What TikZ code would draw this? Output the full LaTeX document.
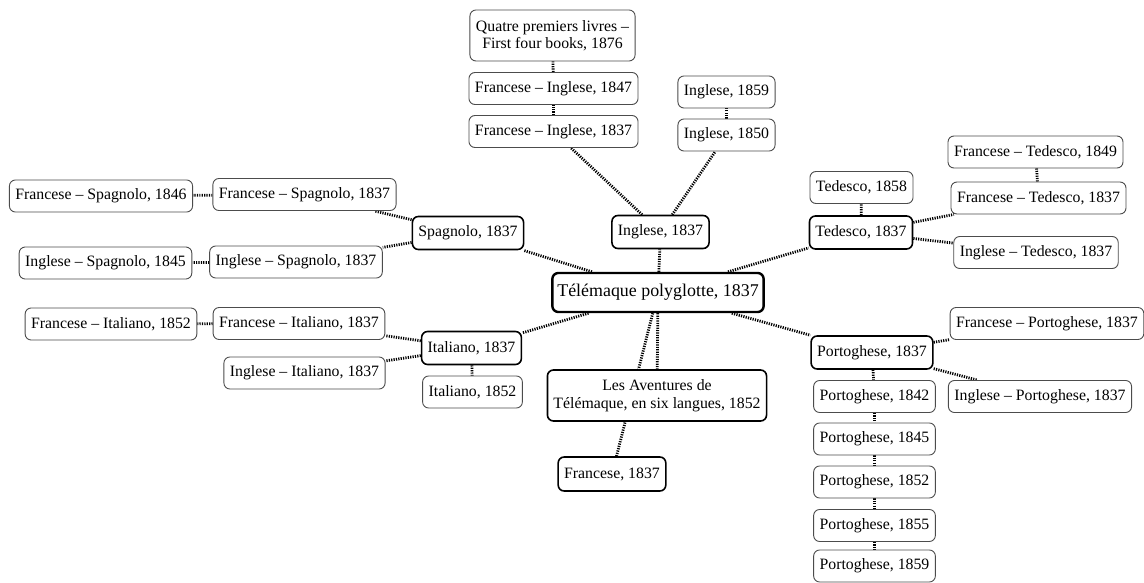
\documentclass[tikz,border=0pt]{standalone}
\usepackage{fontspec}
\setmainfont{Liberation Serif}
\usetikzlibrary{backgrounds}

\tikzset{
  leaf/.style={draw=black!70, line width=0.9pt, rounded corners=6pt, fill=white,
    inner xsep=6pt, inner ysep=0pt, minimum height=32pt, align=center,
    font=\fontsize{15.8}{17.5}\selectfont},
  lang/.style={leaf, draw=black, line width=1.6pt, minimum height=33pt},
  hub/.style={leaf, draw=black, line width=2.4pt, minimum height=39pt,
    inner xsep=5pt, font=\fontsize{17.9}{20}\selectfont},
  link/.style={line width=2.8pt, dash pattern=on 1.2pt off 1.2pt}
}

\begin{document}
\begin{tikzpicture}[x=1pt,y=-1pt]
        \useasboundingbox (0,0) rectangle (1144,583); % pixel frame of the picture

        \node[hub] (hub) at (658,292.5) {Télémaque polyglotte, 1837};

        % Inglese branch
        \node[lang] (ing) at (660.5,232) {Inglese, 1837};
        \node[leaf] (fi1837) at (553.5,131.5) {Francese -- Inglese, 1837};
        \node[leaf] (fi1847) at (553.5,88.5) {Francese -- Inglese, 1847};
        \node[leaf, minimum height=51pt] (quatre) at (552.5,35.5) {Quatre premiers livres --\\First four books, 1876};
        \node[leaf] (ing1850) at (726.5,135) {Inglese, 1850};
        \node[leaf] (ing1859) at (726.5,92) {Inglese, 1859};

        % Spagnolo branch
        \node[lang] (spa) at (468,233) {Spagnolo, 1837};
        \node[leaf] (fs1837) at (304.5,194.5) {Francese -- Spagnolo, 1837};
        \node[leaf] (fs1846) at (101,196) {Francese -- Spagnolo, 1846};
        \node[leaf] (is1837) at (296,262) {Inglese -- Spagnolo, 1837};
        \node[leaf] (is1845) at (105.5,263) {Inglese -- Spagnolo, 1845};

        % Italiano branch
        \node[lang] (ita) at (471.5,348) {Italiano, 1837};
        \node[leaf] (fit1837) at (299,323.5) {Francese -- Italiano, 1837};
        \node[leaf] (fit1852) at (111,324) {Francese -- Italiano, 1852};
        \node[leaf] (iit1837) at (304.5,373) {Inglese -- Italiano, 1837};
        \node[leaf] (ita1852) at (472.5,392) {Italiano, 1852};

        % Francese / six langues
        \node[lang, minimum height=51pt] (aventures) at (657,395.5) {Les Aventures de\\Télémaque, en six langues, 1852};
        \node[lang, minimum height=34pt] (fra) at (612,474) {Francese, 1837};

        % Tedesco branch
        \node[lang] (ted) at (861,232.5) {Tedesco, 1837};
        \node[leaf] (ted1858) at (861.5,187.5) {Tedesco, 1858};
        \node[leaf] (ft1837) at (1038.5,198) {Francese -- Tedesco, 1837};
        \node[leaf] (ft1849) at (1035.5,152) {Francese -- Tedesco, 1849};
        \node[leaf] (it1837) at (1036,252.5) {Inglese -- Tedesco, 1837};

        % Portoghese branch
        \node[lang] (por) at (872,352.5) {Portoghese, 1837};
        \node[leaf] (fp1837) at (1047,323.5) {Francese -- Portoghese, 1837};
        \node[leaf] (ip1837) at (1040,396.5) {Inglese -- Portoghese, 1837};
        \foreach \yr/\yy in {1842/396.5,1845/439,1852/482,1855/525.5,1859/566}{  % the chain of later editions
            \node[leaf] (p\yr) at (874.5,\yy) {Portoghese, \yr};
        }

        \begin{scope}[on background layer] % connectors go under the white boxes
            \foreach \a/\b in {hub/ing,hub/spa,hub/ita,hub/ted,hub/por,hub/aventures,hub/fra,
                ing/fi1837,fi1837/fi1847,fi1847/quatre,ing/ing1850,ing1850/ing1859,
                spa/fs1837,fs1837/fs1846,spa/is1837,is1837/is1845,
                ita/fit1837,fit1837/fit1852,ita/iit1837,ita/ita1852,
                ted/ted1858,ted/ft1837,ft1837/ft1849,ted/it1837,
                por/fp1837,por/ip1837,por/p1842,p1842/p1845,p1845/p1852,p1852/p1855,p1855/p1859}{
            \draw[link] (\a) -- (\b);
            }
        \end{scope}
    \end{tikzpicture}
\end{document}
